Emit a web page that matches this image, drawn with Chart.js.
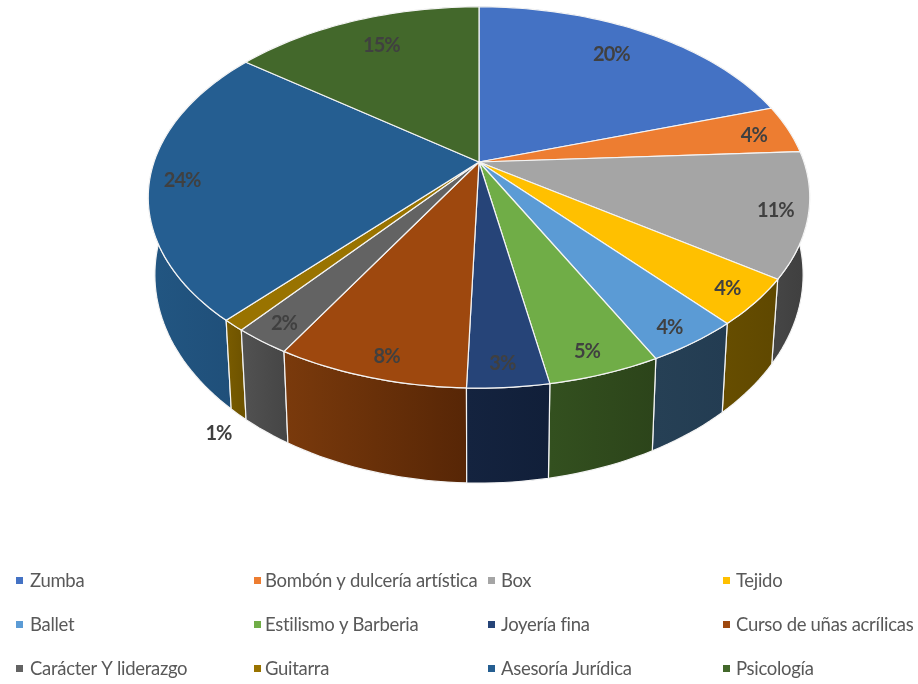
<!DOCTYPE html>
<html lang="es">
<head>
<meta charset="utf-8">
<title>Talleres</title>
<style>
  html, body { margin: 0; padding: 0; background: #fff; }
  canvas { display: block; }
</style>
</head>
<body>
<canvas id="grafico" width="918" height="684"></canvas>
<script src="https://cdn.jsdelivr.net/npm/chart.js@4"></script>
<script>
// Datos
const categorias = [
    'Zumba', 'Bombón y dulcería artística', 'Box', 'Tejido',
    'Ballet', 'Estilismo y Barberia', 'Joyería fina', 'Curso de uñas acrílicas',
    'Carácter Y liderazgo', 'Guitarra', 'Asesoría Jurídica', 'Psicología'
];
const porcentajes = [20.0, 4.1, 10.55, 3.95, 3.9, 4.65, 3.35, 7.9, 2.35, 0.95, 23.6, 14.7];

// Colores de la cara superior y de la pared (izquierda -> derecha)
const colores = [
    '#4472c4', '#ed7d31', '#a5a5a5', '#ffc000', '#5b9bd5', '#70ad47',
    '#264478', '#9e480e', '#636363', '#997300', '#255e91', '#43682b'
];
const paredes = [
    ['#29446f', '#29446f'], ['#8e4b1d', '#8e4b1d'], ['#454545', '#3e3e3e'], ['#664d00', '#5f4800'],
    ['#264055', '#233c52'], ['#33501f', '#2c441a'], ['#14233f', '#111f39'], ['#7a3a0c', '#572606'],
    ['#525252', '#464646'], ['#7a5c00', '#6f5400'], ['#225682', '#1f4e78'], ['#2b4420', '#2b4420']
];

// Posicion de las etiquetas dentro de cada porcion (fraccion del radio y ajuste fino)
const radioEtiqueta = [0.8, 0.9, 0.91, 0.91, 0.914, 0.906, 0.913, 0.91, 0.912, 1, 0.9, 0.804];
const ajusteEtiqueta = [
    [-4, -1], [-4, 3], [-2, 1], [0, 1], [-3, 3], [-4, 2],
    [-3, 0], [5, 2], [0, 1], [-20, 19], [-1, 3], [5, 0]
];
const etiquetaFuera = 9;

// Perspectiva del pastel
const escalaX = 2.006, escalaY = 1.136, fuga = 0.186;
const caidaPared = 74, escalaPared = 1.093, anchoPared = 0.98;

// Proyeccion: angulo de Chart.js y fraccion de radio a pixel de la cara superior
function proyectar(arco, angulo, r, abajo) {
    const u = Math.cos(angulo) * r, v = Math.sin(angulo) * r;
    const w = 1 - fuga * v;
    const R = arco.outerRadius;
    const x = R * escalaX * u / w;
    const y = R * escalaY * v / w;
    if (abajo) {
        return { x: arco.x + x * anchoPared, y: arco.y + caidaPared + y * escalaPared };
    }
    return { x: arco.x + x, y: arco.y + y };
}

function muestras(arco) {
    const pasos = Math.max(4, Math.ceil((arco.endAngle - arco.startAngle) * 40));
    const lista = [];
    for (let i = 0; i <= pasos; i++) {
        lista.push(arco.startAngle + (arco.endAngle - arco.startAngle) * i / pasos);
    }
    return lista;
}

const pastel3d = {
    id: 'pastel3d',
    // Se reemplaza el dibujo plano por el de perspectiva
    beforeDatasetsDraw(chart) {
        const ctx = chart.ctx;
        const arcos = chart.getDatasetMeta(0).data;

        // Paredes, de atras hacia adelante
        const orden = arcos.map((a, i) => i).sort((p, q) => {
            const mp = (arcos[p].startAngle + arcos[p].endAngle) / 2;
            const mq = (arcos[q].startAngle + arcos[q].endAngle) / 2;
            return Math.sin(mp) - Math.sin(mq);
        });
        orden.forEach(i => {
            const arco = arcos[i];
            const angulos = muestras(arco);
            const arriba = angulos.map(t => proyectar(arco, t, 1, false));
            const abajo = angulos.map(t => proyectar(arco, t, 1, true));
            const xs = arriba.map(p => p.x);
            const grad = ctx.createLinearGradient(Math.min(...xs), 0, Math.max(...xs), 0);
            grad.addColorStop(0, paredes[i][0]);
            grad.addColorStop(1, paredes[i][1]);
            ctx.beginPath();
            arriba.forEach((p, n) => n ? ctx.lineTo(p.x, p.y) : ctx.moveTo(p.x, p.y));
            abajo.reverse().forEach(p => ctx.lineTo(p.x, p.y));
            ctx.closePath();
            ctx.fillStyle = grad;
            ctx.fill();
            ctx.strokeStyle = '#f4f4f4';
            ctx.lineWidth = 1.2;
            ctx.stroke();
        });

        // Cara superior
        arcos.forEach((arco, i) => {
            ctx.beginPath();
            ctx.moveTo(arco.x, arco.y);
            muestras(arco).forEach(t => {
                const p = proyectar(arco, t, 1, false);
                ctx.lineTo(p.x, p.y);
            });
            ctx.closePath();
            ctx.fillStyle = colores[i];
            ctx.fill();
            ctx.strokeStyle = '#f4f4f4';
            ctx.lineWidth = 1.2;
            ctx.stroke();
        });

        // Etiquetas
        const total = porcentajes.reduce((s, v) => s + v, 0);
        ctx.font = 'bold 20px Lato';
        ctx.letterSpacing = '-1px';
        ctx.textAlign = 'center';
        ctx.textBaseline = 'middle';
        ctx.fillStyle = '#404040';
        arcos.forEach((arco, i) => {
            const medio = (arco.startAngle + arco.endAngle) / 2;
            const texto = Math.round(porcentajes[i] / total * 100) + '%';
            const p = proyectar(arco, medio, radioEtiqueta[i], i === etiquetaFuera);
            ctx.fillText(texto, p.x + ajusteEtiqueta[i][0], p.y + ajusteEtiqueta[i][1]);
        });

        // Leyenda
        const marcas = [16, 254, 488, 723];
        const textos = [30, 265, 501, 736];
        const filas = [581, 625, 669];
        ctx.font = '18.5px Lato';
        ctx.letterSpacing = '-0.3px';
        ctx.textAlign = 'left';
        categorias.forEach((nombre, i) => {
            const y = filas[Math.floor(i / 4)];
            ctx.fillStyle = colores[i];
            ctx.fillRect(marcas[i % 4], y - 4, 7, 7);
            ctx.fillStyle = '#595959';
            ctx.fillText(nombre, textos[i % 4], y);
        });
        ctx.letterSpacing = '0px';
        return false;
    }
};

new Chart(document.getElementById('grafico'), {
    type: 'pie',
    data: {
        labels: categorias,
        datasets: [{
            data: porcentajes,
            backgroundColor: colores,
            borderWidth: 0
        }]
    },
    options: {
        responsive: false,
        animation: false,
        layout: { padding: { left: 40, right: 0, top: 0, bottom: 360 } },
        plugins: {
            legend: { display: false },
            tooltip: { enabled: false }
        }
    },
    plugins: [pastel3d]
});
</script>
</body>
</html>
